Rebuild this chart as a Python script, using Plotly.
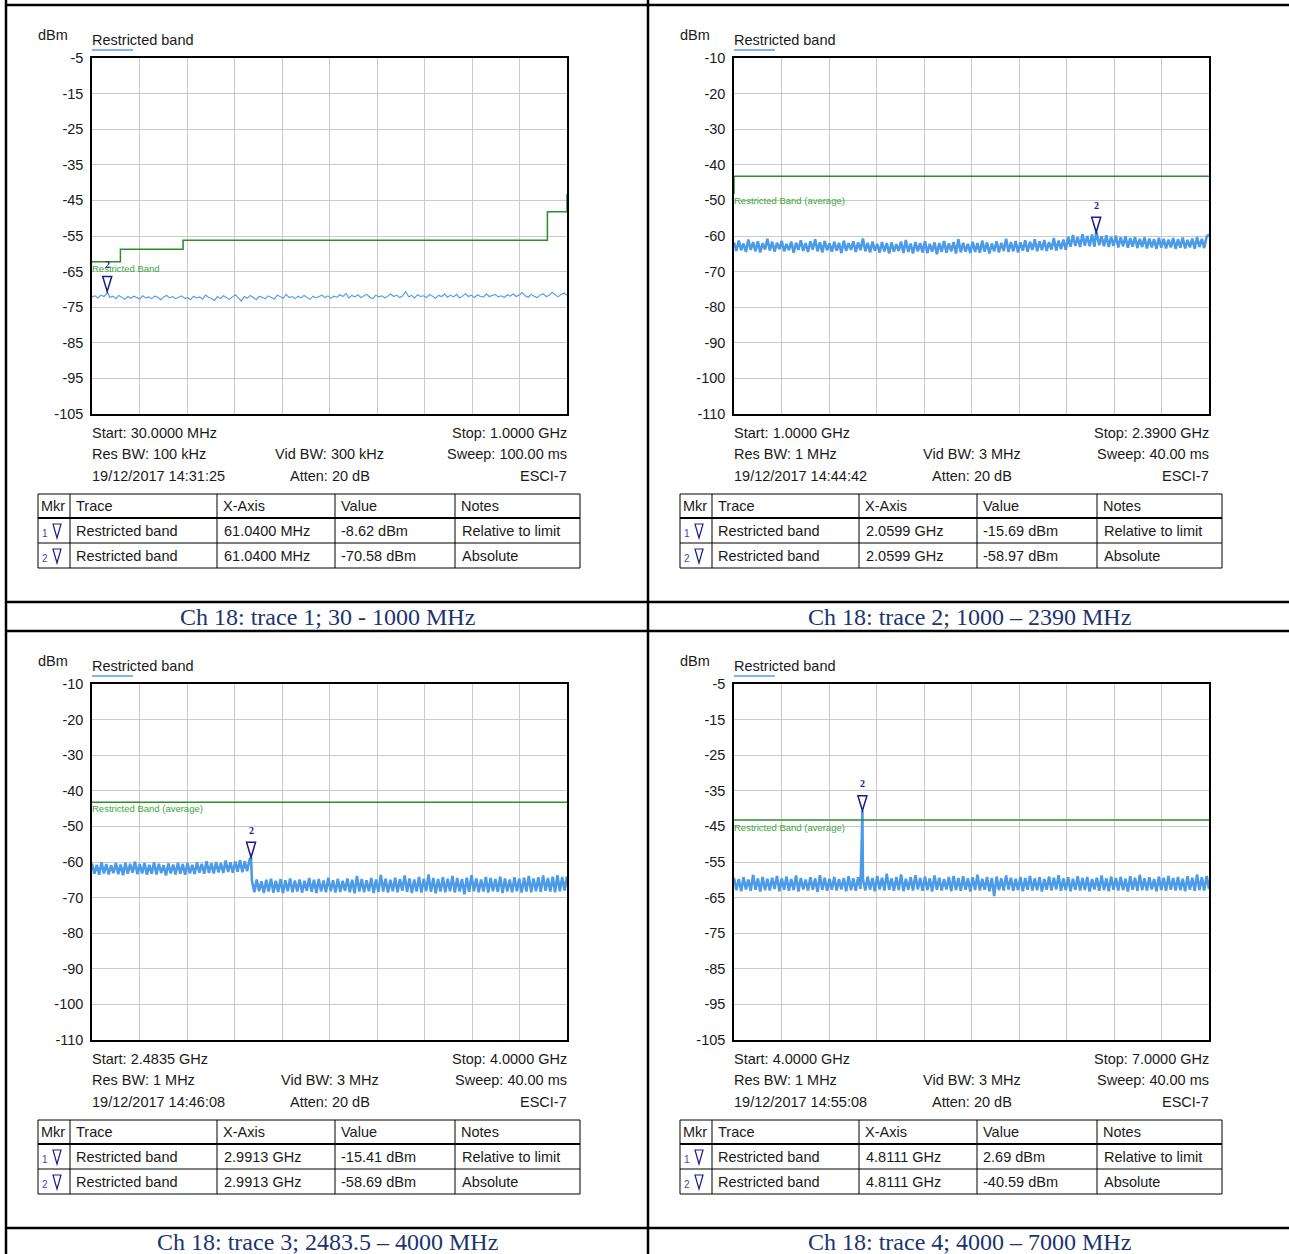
import numpy as np
import plotly.graph_objects as go

W, H = 1289, 1254

# ---------------- measured data ----------------
sweep_start = [30.0, 1000.0, 2483.5, 4000.0]      # MHz
sweep_stop = [1000.0, 2390.0, 4000.0, 7000.0]     # MHz
y_top = [-5, -10, -10, -5]                        # dBm
y_bottom = [-105, -110, -110, -105]               # dBm

trace1_dbm = [
    -72.1, -71.8, -72.4, -71.6, -72.0, -71.2, -72.3, -71.9, -72.6, -71.7, -72.2, -72.8, -72.0, -72.5, -71.9, -72.3, -72.7, -71.8, -72.4, -72.1,
    -72.6, -71.9, -72.2, -72.9, -72.1, -71.7, -72.4, -72.0, -72.6, -72.2, -71.8, -72.5, -72.3, -72.9, -71.9, -72.4, -72.1, -72.7, -71.6, -72.2,
    -72.5, -73.1, -72.0, -72.6, -71.8, -72.3, -72.8, -72.1, -71.5, -72.4, -73.3, -72.0, -72.5, -71.7, -72.2, -72.9, -71.9, -72.3, -72.6, -71.8,
    -72.2, -72.7, -71.6, -72.1, -72.5, -71.4, -72.3, -72.0, -72.6, -71.9, -72.4, -71.7, -72.2, -72.8, -71.9, -72.4, -72.0, -71.6, -72.3, -71.8,
    -72.5, -71.9, -72.2, -71.5, -72.0, -71.1, -72.4, -71.7, -72.1, -71.5, -72.3, -71.8, -71.4, -72.2, -72.6, -71.6, -72.1, -71.8, -72.4, -71.9,
    -71.3, -72.0, -71.6, -72.3, -71.8, -70.6, -72.1, -71.7, -72.4, -71.5, -72.0, -71.8, -72.3, -71.4, -71.9, -72.5, -71.7, -72.0, -71.3, -72.2,
    -71.6, -72.1, -71.4, -72.4, -71.9, -71.2, -72.0, -71.6, -72.3, -71.5, -71.9, -72.2, -71.3, -72.0, -71.7, -71.4, -72.1, -71.8, -72.3, -71.5,
    -71.9, -71.3, -72.0, -71.6, -70.9, -71.8, -72.2, -71.4, -71.9, -72.3, -71.6, -71.2, -72.0, -71.7, -70.8, -71.5, -72.1, -71.4, -71.0, -71.7,
]

trace2_dbm = [
    -61.8, -64.2, -61.3, -64.0, -62.1, -64.5, -61.0, -63.9, -61.7, -64.3, -61.5, -64.6, -62.0, -63.8, -60.8, -64.1, -61.6, -64.4, -61.9, -63.7,
    -61.4, -64.3, -62.2, -64.0, -61.6, -64.7, -61.9, -63.9, -61.2, -64.2, -62.0, -64.5, -61.5, -63.8, -60.9, -64.3, -61.8, -64.6, -61.4, -64.0,
    -62.1, -64.4, -61.6, -64.1, -61.9, -64.8, -61.3, -64.2, -62.0, -63.9, -61.5, -64.5, -61.8, -64.0, -60.7, -64.3, -61.9, -64.6, -61.6, -64.1,
    -62.2, -64.7, -61.7, -64.3, -62.0, -64.9, -61.8, -64.4, -62.3, -64.2, -61.6, -64.8, -61.1, -64.5, -62.1, -64.9, -61.7, -64.3, -62.0, -64.6,
    -61.5, -64.8, -62.2, -64.4, -61.8, -65.1, -62.0, -64.5, -61.4, -64.7, -62.1, -64.3, -61.7, -64.9, -60.9, -64.6, -61.9, -64.4, -62.2, -64.8,
    -61.6, -64.5, -62.0, -64.7, -61.3, -64.4, -61.8, -64.9, -62.1, -64.3, -61.5, -64.6, -61.9, -64.2, -60.8, -64.5, -61.7, -64.3, -61.4, -64.6,
    -61.8, -64.1, -61.2, -64.4, -61.6, -63.9, -60.9, -64.3, -61.5, -64.0, -61.1, -64.2, -61.7, -63.8, -60.6, -64.1, -61.3, -63.7, -61.0, -63.9,
    -60.2, -63.0, -59.7, -62.8, -60.3, -63.1, -59.5, -62.7, -60.0, -62.9, -59.6, -63.0, -59.3, -62.6, -60.1, -62.9, -59.8, -63.1, -60.2, -62.8,
    -59.9, -63.2, -60.4, -62.9, -60.1, -63.3, -60.6, -63.0, -60.3, -63.4, -60.8, -63.1, -60.4, -63.5, -60.7, -63.2, -60.9, -63.6, -60.5, -63.3,
    -60.8, -63.5, -61.0, -63.2, -60.6, -63.6, -60.9, -63.3, -60.4, -63.5, -61.1, -63.2, -60.7, -63.6, -60.3, -63.1, -60.8, -63.4, -60.2, -59.6,
]

trace3_dbm = [
    -60.4, -63.3, -60.8, -63.6, -60.1, -63.2, -60.6, -63.5, -60.9, -63.1, -60.3, -63.4, -60.7, -63.7, -60.2, -63.3, -60.5, -63.0, -59.9, -63.4,
    -60.6, -63.2, -60.3, -63.6, -60.8, -63.3, -60.1, -63.5, -60.5, -63.1, -60.9, -63.8, -60.4, -63.2, -60.7, -63.5, -60.2, -63.3, -60.6, -63.6,
    -60.3, -63.2, -60.8, -63.4, -60.1, -63.0, -60.5, -63.3, -59.8, -63.1, -60.4, -63.2, -60.0, -62.9, -60.3, -63.1, -59.6, -62.8, -60.1, -63.0,
    -59.9, -62.7, -59.5, -62.9, -59.8, -62.6, -59.3,
    -65.2, -68.5, -64.9, -68.2, -65.4, -68.7, -65.0, -68.3, -64.7, -68.6, -65.3, -68.4, -64.8, -68.8, -65.1, -68.2, -64.6, -68.5, -65.2, -68.3,
    -64.9, -68.6, -65.3, -68.1, -64.5, -68.4, -65.0, -68.7, -64.8, -68.3, -65.2, -68.5, -64.4, -68.2, -65.1, -68.6, -64.7, -68.4, -65.3, -68.1,
    -64.6, -68.5, -65.0, -68.8, -63.9, -68.3, -64.8, -68.5, -65.1, -68.2, -64.5, -68.7, -64.9, -68.4, -63.6, -68.3, -64.7, -68.6, -65.0, -68.2,
    -64.4, -68.5, -64.8, -68.1, -63.8, -68.4, -64.6, -68.7, -64.9, -68.3, -64.2, -68.6, -64.7, -68.2, -63.5, -68.4, -64.5, -68.8, -64.8, -68.3,
    -64.3, -68.5, -64.7, -68.2, -63.9, -68.6, -64.5, -68.3, -64.8, -69.1, -64.4, -68.4, -63.7, -68.2, -64.6, -68.5, -64.9, -68.3, -64.2, -68.6,
    -64.5, -68.2, -64.8, -68.4, -64.1, -68.7, -64.6, -68.3, -64.9, -68.5, -64.3, -68.2, -64.7, -68.6, -64.4, -68.3, -63.9, -68.5, -64.6, -68.2,
    -64.3, -68.4, -63.8, -68.1, -64.5, -68.3, -64.1, -68.5, -63.7, -68.2, -64.2, -68.0, -64.0,
]

trace4_dbm = [
    -59.5, -62.9, -59.8, -63.2, -59.3, -62.7, -59.9, -63.1, -58.6, -62.8, -59.6, -63.3, -59.2, -62.9, -59.7, -63.0, -59.4, -62.6, -58.9, -63.2,
    -59.6, -62.8, -59.1, -63.1, -59.8, -62.9, -58.8, -63.3, -59.5, -62.7, -59.9, -63.0, -59.3, -62.8, -59.6, -63.4, -58.7, -62.9, -59.4, -63.1,
    -59.7, -62.8, -59.2, -63.0, -59.8, -62.7, -59.5, -63.2, -59.0, -62.9, -59.6, -63.1, -59.3, -62.6, -59.8, -63.0, -59.1, -62.8, -59.5, -63.2,
    -58.9, -62.7, -59.4, -63.0, -58.3, -62.8, -59.6, -63.1, -59.2, -62.9, -58.5, -63.2, -59.7, -62.8, -59.3, -63.0, -58.7, -62.7, -59.5, -63.1,
    -59.1, -62.9, -59.6, -63.3, -58.8, -62.8, -59.4, -63.0, -59.8, -62.7, -59.2, -63.2, -58.9, -62.9, -59.5, -63.1, -59.0, -62.8, -59.6, -63.3,
    -59.3, -62.9, -58.6, -63.0, -59.7, -62.8, -59.2, -63.2, -59.5, -64.6, -59.1, -62.9, -59.6, -63.0, -58.8, -62.7, -59.4, -63.1, -59.7, -62.9,
    -59.2, -63.2, -59.5, -62.8, -58.9, -63.0, -59.6, -62.9, -59.3, -63.3, -59.8, -62.8, -59.1, -63.0, -59.4, -62.7, -58.7, -63.1, -59.6, -62.9,
    -59.3, -63.2, -59.7, -62.8, -59.0, -63.0, -59.5, -62.9, -59.2, -63.3, -59.8, -62.7, -59.4, -63.1, -58.8, -62.9, -59.6, -63.2, -59.1, -62.8,
    -59.5, -63.0, -59.2, -62.9, -59.7, -63.3, -59.0, -62.8, -59.4, -63.1, -58.6, -62.9, -59.6, -63.0, -59.3, -62.7, -59.8, -63.2, -59.1, -62.9,
    -59.4, -63.1, -58.9, -62.8, -59.5, -63.0, -59.2, -62.9, -59.7, -63.2, -59.0, -62.8, -59.4, -63.1, -58.5, -62.9, -59.3, -63.0, -58.9, -62.6,
]

# restricted band limit lines (MHz, dBm)
limit1_mhz = [30, 88, 88, 216, 216, 960, 960, 1000, 1000]
limit1_dbm = [-62.2, -62.2, -58.7, -58.7, -56.2, -56.2, -48.2, -48.2, -43.2]
limit2_mhz = [1000, 1000, 2390]
limit2_dbm = [-48.2, -43.2, -43.2]
limit3_mhz = [2483.5, 4000]
limit3_dbm = [-43.2, -43.2]
limit4_mhz = [4000, 7000]
limit4_dbm = [-43.2, -43.2]

limit_label = ["Restricted Band", "Restricted Band (average)",
               "Restricted Band (average)", "Restricted Band (average)"]
limit_label_dbm = [-64.0, -50.0, -45.1, -45.2]

# marker 2 (absolute) per panel
marker_mhz = [61.04, 2059.9, 2991.3, 4811.1]
marker_dbm = [-70.58, -58.97, -58.69, -40.59]

# header block texts
start_text = ["Start: 30.0000 MHz", "Start: 1.0000 GHz", "Start: 2.4835 GHz", "Start: 4.0000 GHz"]
stop_text = ["Stop: 1.0000 GHz", "Stop: 2.3900 GHz", "Stop: 4.0000 GHz", "Stop: 7.0000 GHz"]
rbw_text = ["Res BW: 100 kHz", "Res BW: 1 MHz", "Res BW: 1 MHz", "Res BW: 1 MHz"]
vbw_text = ["Vid BW: 300 kHz", "Vid BW: 3 MHz", "Vid BW: 3 MHz", "Vid BW: 3 MHz"]
sweep_text = ["Sweep: 100.00 ms", "Sweep: 40.00 ms", "Sweep: 40.00 ms", "Sweep: 40.00 ms"]
date_text = ["19/12/2017 14:31:25", "19/12/2017 14:44:42", "19/12/2017 14:46:08", "19/12/2017 14:55:08"]
atten_text = "Atten: 20 dB"
device_text = "ESCI-7"

# marker tables
table_header = ["Mkr", "Trace", "X-Axis", "Value", "Notes"]
table_xaxis = ["61.0400 MHz", "2.0599 GHz", "2.9913 GHz", "4.8111 GHz"]
table_rel = ["-8.62 dBm", "-15.69 dBm", "-15.41 dBm", "2.69 dBm"]
table_abs = ["-70.58 dBm", "-58.97 dBm", "-58.69 dBm", "-40.59 dBm"]
table_notes = ["Relative to limit", "Absolute"]

captions = ["Ch 18: trace 1; 30 - 1000 MHz", "Ch 18: trace 2; 1000 \u2013 2390 MHz",
            "Ch 18: trace 3; 2483.5 \u2013 4000 MHz", "Ch 18: trace 4; 4000 \u2013 7000 MHz"]

traces = [trace1_dbm, trace2_dbm, trace3_dbm, trace4_dbm]
trace_width = [1.1, 2.6, 2.6, 2.6]
limits = [(limit1_mhz, limit1_dbm), (limit2_mhz, limit2_dbm),
          (limit3_mhz, limit3_dbm), (limit4_mhz, limit4_dbm)]

# ---------------- styling ----------------
SANS = "Liberation Sans, Arial, sans-serif"
SERIF = "Liberation Serif, Times New Roman, serif"
TRACE_BLUE = "#4C9BE8"
LIMIT_GREEN = "#2A8F2A"
LABEL_GREEN = "#3DA63D"
NAVY = "#1C1C8C"
TEXT = "#1A1A1A"
GRID = "#CACACA"
CAPTION = "#1B3470"
FS = 14.5

# panel offsets in pixels (left/top of the upper-left panel is the reference)
offsets = [(0, 0), (642, 0), (0, 626), (642, 626)]
PL, PR, PT, PB = 92, 567, 58, 414   # plot area of the upper-left panel


def px(x):
    return x / W


def py(y):
    return 1 - y / H


def sweep(start, stop, values, mk_x, mk_y):
    f = np.linspace(start, stop, len(values))
    v = np.asarray(values, dtype=float)
    i = int(np.searchsorted(f, mk_x))
    return np.insert(f, i, mk_x), np.insert(v, i, mk_y)


fig = go.Figure()
shapes = []
annotations = []


def text(x, y, s, anchor="left", size=FS, color=TEXT, family=SANS):
    # annotation boxes carry a couple of pixels of padding; compensate for it
    shift = {"left": -2, "right": 2, "center": 0}[anchor]
    annotations.append(dict(
        x=px(x + shift), y=py(y), xref="paper", yref="paper", text=s, showarrow=False,
        xanchor=anchor, yanchor="middle", font=dict(size=size, color=color, family=family)))


def hline(x0, x1, y, width=1, color="black"):
    shapes.append(dict(type="line", xref="paper", yref="paper", x0=px(x0), x1=px(x1),
                       y0=py(y), y1=py(y), line=dict(color=color, width=width)))


def vline(x, y0, y1, width=1, color="black"):
    shapes.append(dict(type="line", xref="paper", yref="paper", x0=px(x), x1=px(x),
                       y0=py(y0), y1=py(y1), line=dict(color=color, width=width)))


def small_triangle(cx, cy):
    # open downward triangle used in the marker column
    path = "M {:.5f},{:.5f} L {:.5f},{:.5f} L {:.5f},{:.5f} Z".format(
        px(cx - 4), py(cy - 7), px(cx + 4), py(cy - 7), px(cx), py(cy + 7))
    shapes.append(dict(type="path", xref="paper", yref="paper", path=path,
                       line=dict(color=NAVY, width=1.2)))


for k in range(4):
    ox, oy = offsets[k]
    n = k + 1
    xa = "x" if n == 1 else f"x{n}"
    ya = "y" if n == 1 else f"y{n}"

    # measured trace
    f, v = sweep(sweep_start[k], sweep_stop[k], traces[k], marker_mhz[k], marker_dbm[k])
    fig.add_trace(go.Scatter(x=f, y=v, mode="lines", xaxis=xa, yaxis=ya,
                             line=dict(color=TRACE_BLUE, width=trace_width[k]), showlegend=False,
                             hoverinfo="skip"))
    # limit line
    lx, ly = limits[k]
    fig.add_trace(go.Scatter(x=lx, y=ly, mode="lines", xaxis=xa, yaxis=ya,
                             line=dict(color=LIMIT_GREEN, width=1.5), showlegend=False,
                             hoverinfo="skip"))

    yt = list(range(y_top[k], y_bottom[k] - 1, -10))
    ax_common = dict(showgrid=True, gridcolor=GRID, gridwidth=1, zeroline=False,
                     showline=True, linecolor="black", linewidth=1.5, mirror=True,
                     automargin=False, fixedrange=True)
    fig.layout[f"xaxis{'' if n == 1 else n}"] = dict(
        ax_common, domain=[px(PL + ox), px(PR + ox)], anchor=ya,
        range=[sweep_start[k], sweep_stop[k]], tick0=sweep_start[k],
        dtick=(sweep_stop[k] - sweep_start[k]) / 10, showticklabels=False, ticks="")
    fig.layout[f"yaxis{'' if n == 1 else n}"] = dict(
        ax_common, domain=[py(PB + oy), py(PT + oy)], anchor=xa,
        range=[y_bottom[k], y_top[k]], tickvals=yt, ticktext=[str(t) for t in yt],
        ticks="", ticklabelstandoff=4,
        tickfont=dict(family=SANS, size=FS, color=TEXT))

    # limit label
    annotations.append(dict(x=sweep_start[k], y=limit_label_dbm[k], xref=xa, yref=ya,
                            text=limit_label[k], showarrow=False, xanchor="left", xshift=-2,
                            yanchor="middle", font=dict(size=9.5, color=LABEL_GREEN, family=SANS)))

    # marker 2: open triangle whose tip sits on the marker value
    shapes.append(dict(type="path", xref=xa, yref=ya, xsizemode="pixel", ysizemode="pixel",
                       xanchor=marker_mhz[k], yanchor=marker_dbm[k],
                       path="M -4.5,15 L 4.5,15 L 0,0 Z", line=dict(color=NAVY, width=1.5)))
    annotations.append(dict(x=marker_mhz[k], y=marker_dbm[k], xref=xa, yref=ya, text="<b>2</b>",
                            showarrow=False, yshift=27, xanchor="center", yanchor="middle",
                            font=dict(size=10, color=NAVY, family=SERIF)))

    # headings
    text(38 + ox, 35 + oy, "dBm")
    text(92 + ox, 40 + oy, "Restricted band")
    hline(92 + ox, 133 + ox, 50 + oy, width=2, color="#7EB5EA")

    # sweep information
    cx = (PL + PR) / 2 + ox
    text(92 + ox, 433 + oy, start_text[k])
    text(567 + ox, 433 + oy, stop_text[k], anchor="right")
    text(92 + ox, 454 + oy, rbw_text[k])
    text(cx, 454 + oy, vbw_text[k], anchor="center")
    text(567 + ox, 454 + oy, sweep_text[k], anchor="right")
    text(92 + ox, 476 + oy, date_text[k])
    text(cx, 476 + oy, atten_text, anchor="center")
    text(567 + ox, 476 + oy, device_text, anchor="right")

    # marker table
    tx0, tx1 = 38 + ox, 580 + ox
    ty = [494 + oy, 518 + oy, 543 + oy, 568 + oy]
    cols = [38, 70, 217, 335, 455, 580]
    hline(tx0, tx1, ty[0])
    hline(tx0, tx1, ty[1], width=2)
    hline(tx0, tx1, ty[2])
    hline(tx0, tx1, ty[3])
    for c in cols:
        vline(c + ox, ty[0], ty[3])
    hy = 506 + oy
    r1 = 531 + oy
    r2 = 556 + oy
    text(41 + ox, hy, table_header[0])
    for ci, h in zip(cols[1:5], table_header[1:]):
        text(ci + 6 + ox, hy, h)
    for row_y, idx, val, note in [(r1, "1", table_rel[k], table_notes[0]),
                                  (r2, "2", table_abs[k], table_notes[1])]:
        text(42 + ox, row_y + 2, idx, size=10, color="#3A4AB0")
        small_triangle(57 + ox, row_y)
        text(76 + ox, row_y, "Restricted band")
        text(224 + ox, row_y, table_xaxis[k])
        text(341 + ox, row_y, val)
        text(462 + ox, row_y, note)

# document frame and caption rows
vline(6, 0, H, width=2.5)
vline(648, 0, H, width=2.5)
hline(6, W, 5, width=2.5)
hline(6, W, 602, width=2.5)
hline(6, W, 631, width=2.5)
hline(6, W, 1228, width=2.5)
for k, (cx, cy) in enumerate([(327, 617), (969, 617), (327, 1242), (969, 1242)]):
    text(cx, cy, captions[k], anchor="center", size=24, color=CAPTION, family=SERIF)

fig.update_layout(width=W, height=H, margin=dict(l=0, r=0, t=0, b=0),
                  paper_bgcolor="white", plot_bgcolor="white",
                  shapes=shapes, annotations=annotations, showlegend=False,
                  hovermode=False)

fig.write_html("out.html", config={"displayModeBar": False})
